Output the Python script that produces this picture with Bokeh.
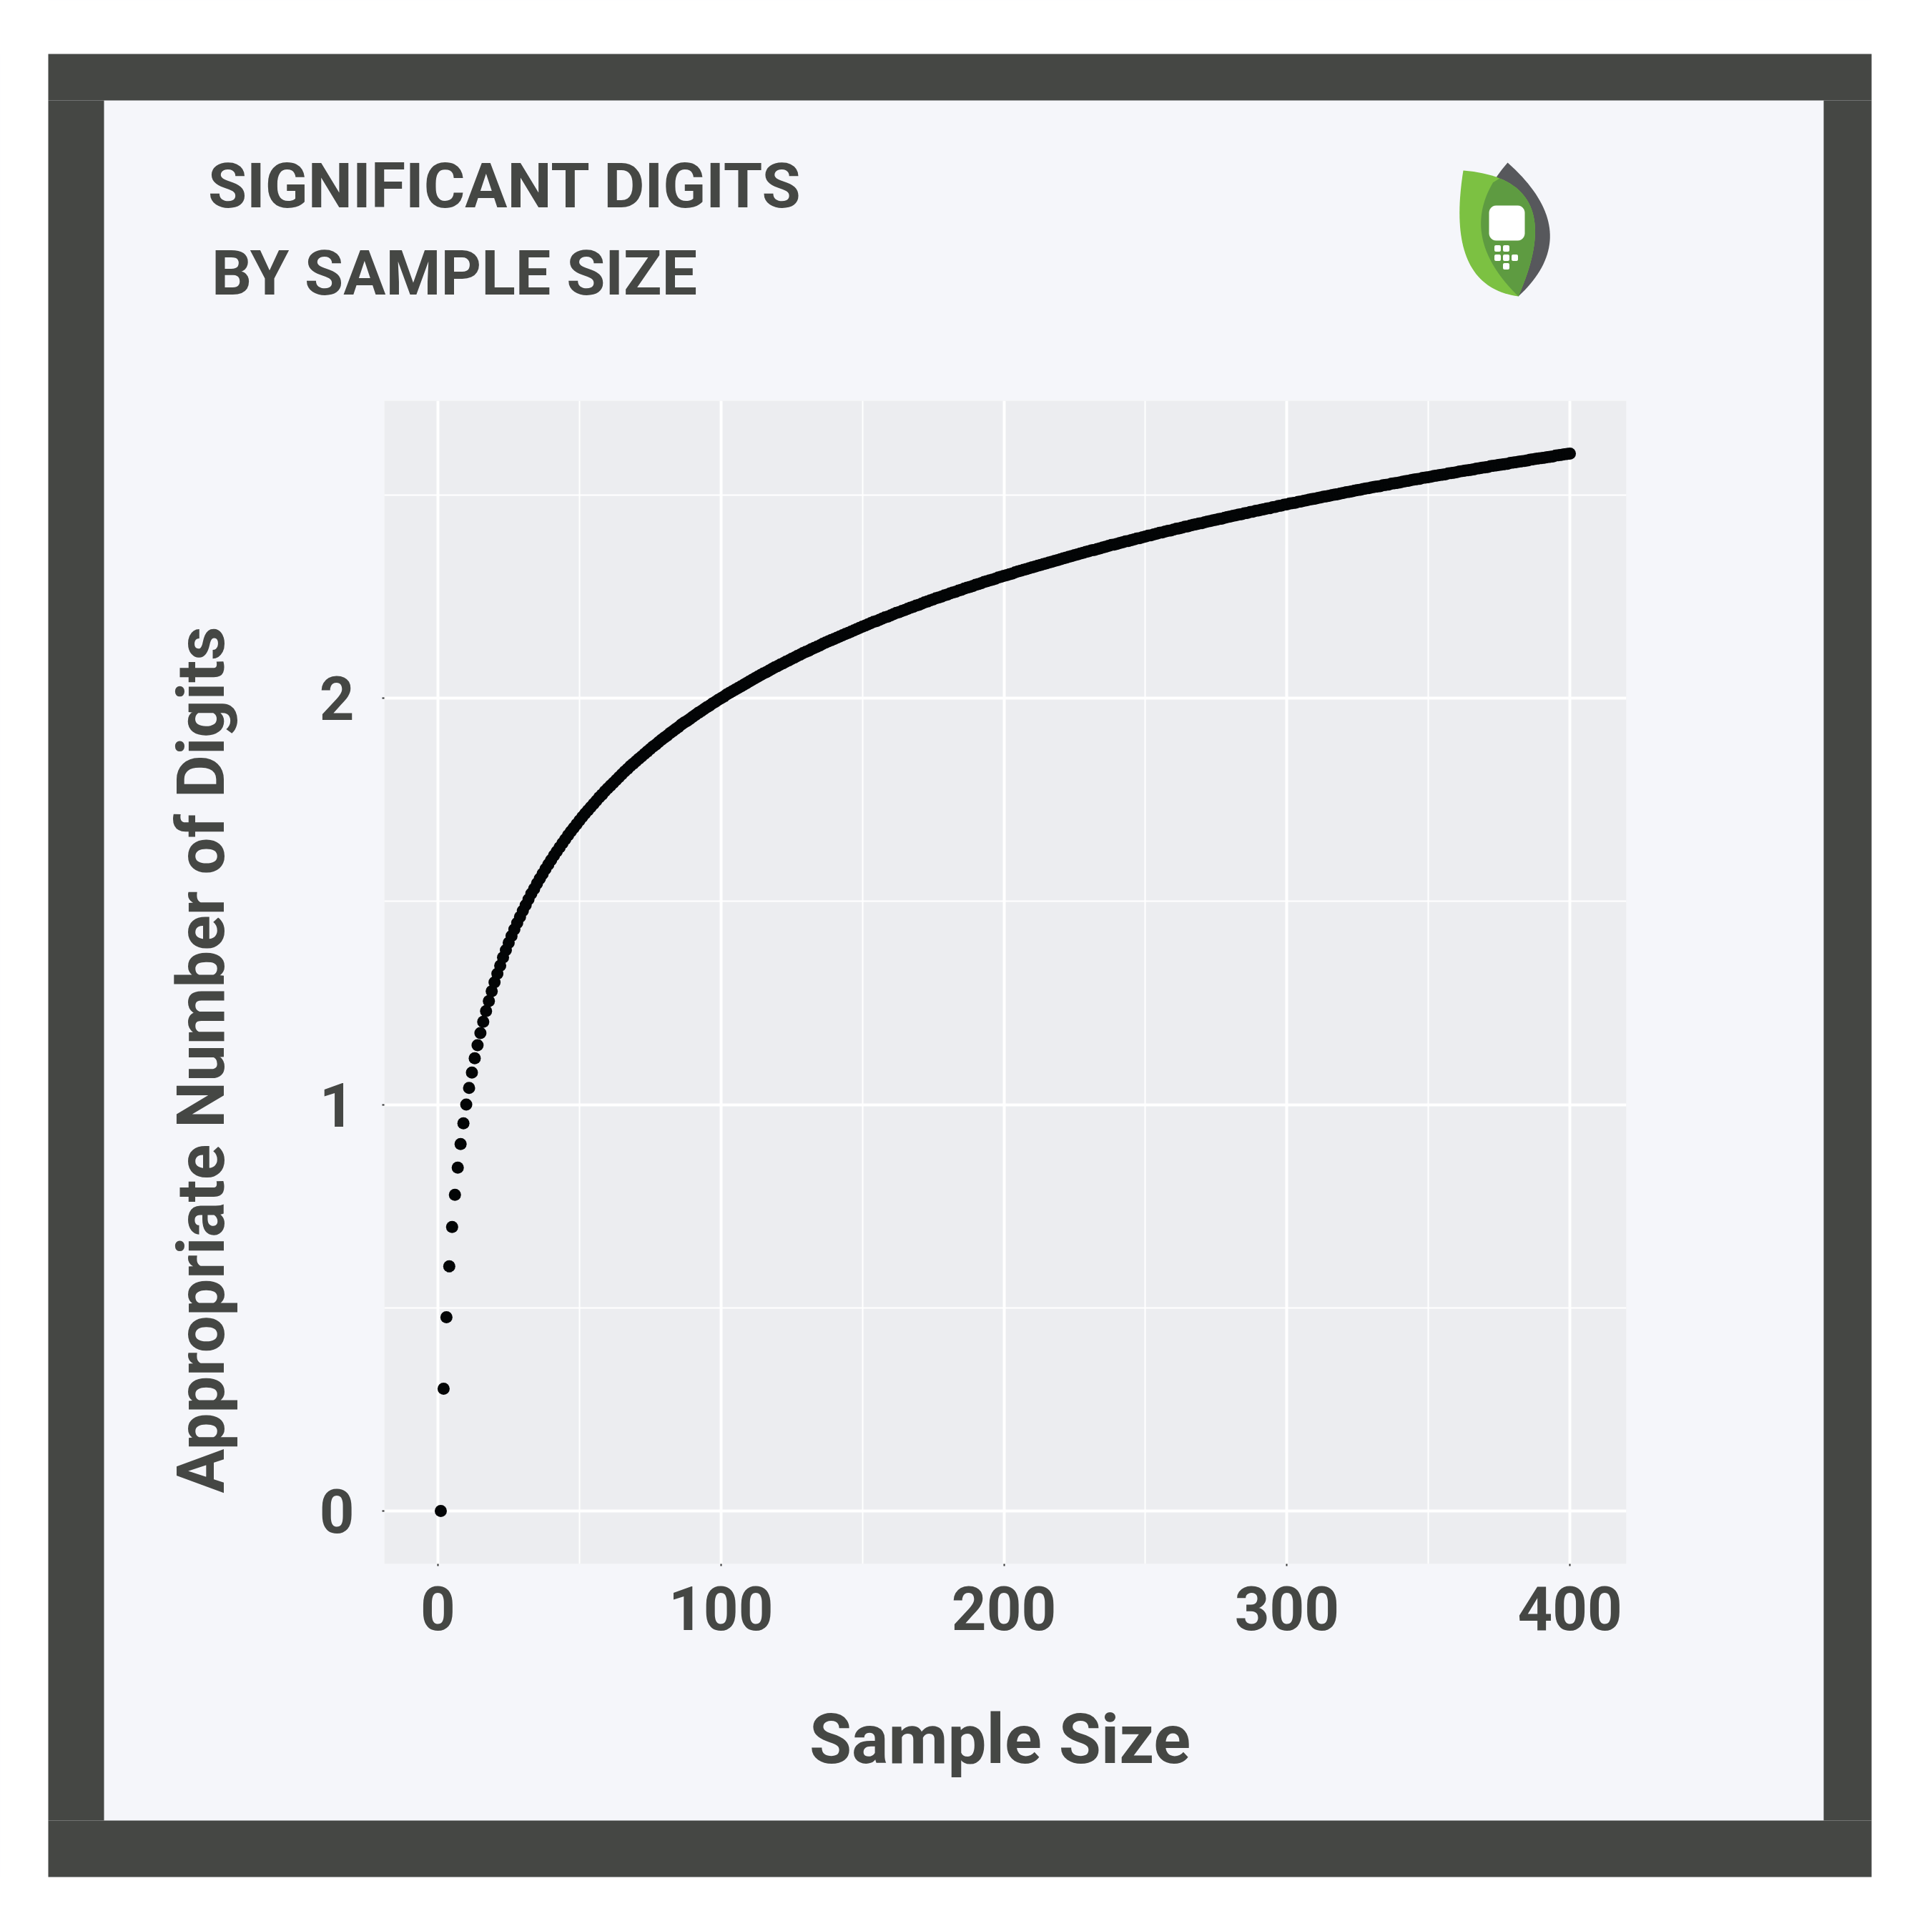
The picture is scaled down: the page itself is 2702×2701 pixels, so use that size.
import math
from bokeh.plotting import figure
from bokeh.models import FixedTicker, LinearAxis, Range1d, Legend, LegendItem
from bokeh.core.properties import value
from bokeh.embed import file_html
from bokeh.resources import INLINE

# ---------------- data ----------------
sample_size = list(range(1, 401))
digits = [
    0.000, 0.301, 0.477, 0.602, 0.699, 0.778, 0.845, 0.903, 0.954, 1.000,
    1.041, 1.079, 1.114, 1.146, 1.176, 1.204, 1.230, 1.255, 1.279, 1.301,
    1.322, 1.342, 1.362, 1.380, 1.398, 1.415, 1.431, 1.447, 1.462, 1.477,
    1.491, 1.505, 1.519, 1.531, 1.544, 1.556, 1.568, 1.580, 1.591, 1.602,
    1.613, 1.623, 1.633, 1.643, 1.653, 1.663, 1.672, 1.681, 1.690, 1.699,
    1.708, 1.716, 1.724, 1.732, 1.740, 1.748, 1.756, 1.763, 1.771, 1.778,
    1.785, 1.792, 1.799, 1.806, 1.813, 1.820, 1.826, 1.833, 1.839, 1.845,
    1.851, 1.857, 1.863, 1.869, 1.875, 1.881, 1.886, 1.892, 1.898, 1.903,
    1.908, 1.914, 1.919, 1.924, 1.929, 1.935, 1.940, 1.944, 1.949, 1.954,
    1.959, 1.964, 1.968, 1.973, 1.978, 1.982, 1.987, 1.991, 1.996, 2.000,
    2.004, 2.009, 2.013, 2.017, 2.021, 2.025, 2.029, 2.033, 2.037, 2.041,
    2.045, 2.049, 2.053, 2.057, 2.061, 2.064, 2.068, 2.072, 2.076, 2.079,
    2.083, 2.086, 2.090, 2.093, 2.097, 2.100, 2.104, 2.107, 2.111, 2.114,
    2.117, 2.121, 2.124, 2.127, 2.130, 2.134, 2.137, 2.140, 2.143, 2.146,
    2.149, 2.152, 2.155, 2.158, 2.161, 2.164, 2.167, 2.170, 2.173, 2.176,
    2.179, 2.182, 2.185, 2.188, 2.190, 2.193, 2.196, 2.199, 2.201, 2.204,
    2.207, 2.210, 2.212, 2.215, 2.217, 2.220, 2.223, 2.225, 2.228, 2.230,
    2.233, 2.236, 2.238, 2.241, 2.243, 2.246, 2.248, 2.250, 2.253, 2.255,
    2.258, 2.260, 2.262, 2.265, 2.267, 2.270, 2.272, 2.274, 2.276, 2.279,
    2.281, 2.283, 2.286, 2.288, 2.290, 2.292, 2.294, 2.297, 2.299, 2.301,
    2.303, 2.305, 2.307, 2.310, 2.312, 2.314, 2.316, 2.318, 2.320, 2.322,
    2.324, 2.326, 2.328, 2.330, 2.332, 2.334, 2.336, 2.338, 2.340, 2.342,
    2.344, 2.346, 2.348, 2.350, 2.352, 2.354, 2.356, 2.358, 2.360, 2.362,
    2.364, 2.365, 2.367, 2.369, 2.371, 2.373, 2.375, 2.377, 2.378, 2.380,
    2.382, 2.384, 2.386, 2.387, 2.389, 2.391, 2.393, 2.394, 2.396, 2.398,
    2.400, 2.401, 2.403, 2.405, 2.407, 2.408, 2.410, 2.412, 2.413, 2.415,
    2.417, 2.418, 2.420, 2.422, 2.423, 2.425, 2.427, 2.428, 2.430, 2.431,
    2.433, 2.435, 2.436, 2.438, 2.439, 2.441, 2.442, 2.444, 2.446, 2.447,
    2.449, 2.450, 2.452, 2.453, 2.455, 2.456, 2.458, 2.459, 2.461, 2.462,
    2.464, 2.465, 2.467, 2.468, 2.470, 2.471, 2.473, 2.474, 2.476, 2.477,
    2.479, 2.480, 2.481, 2.483, 2.484, 2.486, 2.487, 2.489, 2.490, 2.491,
    2.493, 2.494, 2.496, 2.497, 2.498, 2.500, 2.501, 2.502, 2.504, 2.505,
    2.507, 2.508, 2.509, 2.511, 2.512, 2.513, 2.515, 2.516, 2.517, 2.519,
    2.520, 2.521, 2.522, 2.524, 2.525, 2.526, 2.528, 2.529, 2.530, 2.531,
    2.533, 2.534, 2.535, 2.537, 2.538, 2.539, 2.540, 2.542, 2.543, 2.544,
    2.545, 2.547, 2.548, 2.549, 2.550, 2.551, 2.553, 2.554, 2.555, 2.556,
    2.558, 2.559, 2.560, 2.561, 2.562, 2.563, 2.565, 2.566, 2.567, 2.568,
    2.569, 2.571, 2.572, 2.573, 2.574, 2.575, 2.576, 2.577, 2.579, 2.580,
    2.581, 2.582, 2.583, 2.584, 2.585, 2.587, 2.588, 2.589, 2.590, 2.591,
    2.592, 2.593, 2.594, 2.595, 2.597, 2.598, 2.599, 2.600, 2.601, 2.602,
]
x_ticks = [0, 100, 200, 300, 400]
x_minor = [50, 150, 250, 350]
y_ticks = [0, 1, 2]
y_minor = [0.5, 1.5, 2.5]

title_lines = ["SIGNIFICANT DIGITS", "BY SAMPLE SIZE"]
x_label = "Sample Size"
y_label = "Appropriate Number of Digits"
brand = ["NEXLEAF", "ANALYTICS"]

# ---------------- layout / style ----------------
W, H = 2694, 2693
FL, FT, FW, FH = 537, 560, 1737, 1627
X0, X1 = -18.95, 419.95
Y0, Y1 = -0.1301, 2.7321

DARK = "#454744"
PANEL = "#f5f6fa"
PLOTBG = "#ecedf0"
TEXT = "#454744"
FONT = "Roboto"


def X(px):
    return X0 + (px - FL) / FW * (X1 - X0)


def Y(py):
    return Y1 - (py - FT) / FH * (Y1 - Y0)


p = figure(width=W, height=H, output_backend="svg", toolbar_location=None,
           x_range=(X0, X1), y_range=(Y0, Y1),
           min_border_left=FL, min_border_top=FT,
           min_border_right=W - FL - FW, min_border_bottom=H - FT - FH)
p.border_fill_color = PANEL
p.background_fill_color = PLOTBG
p.outline_line_color = None
# pixel-unit ranges used only to place the text axes
p.extra_x_ranges = {"px": Range1d(FL, FL + FW)}
p.extra_y_ranges = {"py": Range1d(FT + FH, FT)}

p.xaxis.ticker = FixedTicker(ticks=x_ticks, minor_ticks=x_minor)
p.yaxis.ticker = FixedTicker(ticks=y_ticks, minor_ticks=y_minor)
for ax in (p.xaxis, p.yaxis):
    ax.axis_line_color = None
    ax.major_tick_line_color = "#333333"
    ax.major_tick_line_width = 2
    ax.major_tick_in = 0
    ax.major_tick_out = 3
    ax.minor_tick_line_color = None
    ax.major_label_text_font = FONT
    ax.major_label_text_font_style = "bold"
    ax.major_label_text_font_size = "85px"
    ax.major_label_text_color = TEXT
p.xaxis.major_label_standoff = 27
p.yaxis.major_label_standoff = 38

p.grid.grid_line_color = "white"
p.grid.grid_line_width = 4
p.grid.minor_grid_line_color = "white"
p.grid.minor_grid_line_width = 2

p.scatter(sample_size, digits, size=17, color="#030506", line_color=None)


def text_axis(side, tick, text, size, style, color, standoff, orientation="horizontal"):
    horiz = side in ("above", "below")
    kw = {"x_range_name": "px"} if horiz else {"y_range_name": "py"}
    ax = LinearAxis(ticker=FixedTicker(ticks=[tick], minor_ticks=[]), **kw)
    ax.major_label_overrides = {tick: text}
    ax.axis_line_color = None
    ax.major_tick_line_color = None
    ax.minor_tick_line_color = None
    ax.major_tick_in = 0
    ax.major_tick_out = 0
    ax.minor_tick_in = 0
    ax.minor_tick_out = 0
    ax.major_label_standoff = standoff
    ax.major_label_text_font = FONT
    ax.major_label_text_font_size = size
    ax.major_label_text_font_style = style
    ax.major_label_text_color = color
    ax.major_label_orientation = orientation
    p.add_layout(ax, side)


text_axis("above", 635, title_lines[1], "88px", "bold", TEXT, 128)
text_axis("above", 706, title_lines[0], "88px", "bold", TEXT, 16)
text_axis("below", 1398, x_label, "96px", "bold", TEXT, 94)
text_axis("left", 1482, y_label, "92px", "bold", TEXT, 109, orientation="vertical")


def poly(pts, color):
    p.patch([X(a) for a, _ in pts], [Y(b) for _, b in pts], fill_color=color,
            line_color=None, level="guide")


def rect(l, t, r, b, color):
    poly([(l, t), (r, t), (r, b), (l, b)], color)


def rrect(l, t, r, b, rad, color, n=6):
    pts = []
    corners = [(r - rad, t + rad, -90, 0), (r - rad, b - rad, 0, 90),
               (l + rad, b - rad, 90, 180), (l + rad, t + rad, 180, 270)]
    for cx, cy, a0, a1 in corners:
        for i in range(n + 1):
            a = math.radians(a0 + (a1 - a0) * i / n)
            pts.append((cx + rad * math.cos(a), cy + rad * math.sin(a)))
    poly(pts, color)


# white outer margin
rect(0, 0, 2702, 75, "white")
rect(0, 2625, 2702, 2701, "white")
rect(0, 0, 67, 2701, "white")
rect(2617, 0, 2702, 2701, "white")
# dark frame
rect(67, 75, 2617, 140, DARK)
rect(67, 2546, 2617, 2625, DARK)
rect(67, 140, 145, 2546, DARK)
rect(2550, 140, 2617, 2546, DARK)


# ---------------- logo mark ----------------
def qbez(p0, c, p1, t0=0.0, t1=1.0, n=40):
    pts = []
    for i in range(n + 1):
        t = t0 + (t1 - t0) * i / n
        a, b, d = (1 - t) ** 2, 2 * t * (1 - t), t * t
        pts.append((a * p0[0] + b * c[0] + d * p1[0], a * p0[1] + b * c[1] + d * p1[1]))
    return pts


B = (2123, 414)
Tg, Cgl, Cgr = (2108, 227), (2026.5, 319.5), (2218.5, 325.5)
Tl, Cll, Clr = (2046, 238), (2020, 400), (2195, 250)
poly(qbez(Tg, Cgl, B) + qbez(Tg, Cgr, B)[::-1], "#57585c")
poly(qbez(Tl, Cll, B) + qbez(Tl, Clr, B)[::-1], "#7cc142")
poly(qbez(Tg, Cgl, B, 0.15, 1.0) + qbez(Tl, Clr, B, 0.2, 1.0)[::-1], "#5e9b41")

rrect(2082, 287, 2132, 336, 10, "white")
for cx, cy in [(2094, 347), (2106, 347), (2094, 360), (2106, 360), (2118, 360), (2106, 372)]:
    rrect(cx - 4.5, cy - 4.5, cx + 4.5, cy + 4.5, 2, "white", n=2)


# ---------------- brand words (label-only legends) ----------------
def brand_word(text, left_px, center_px, size_px, style, color, width_px):
    h = int(round(size_px * 1.2))
    bottom_px = center_px + h / 2.0
    lg = Legend(items=[LegendItem(label=value(text), renderers=[])],
                location=(int(round(left_px - FL)), int(round(FT + FH - bottom_px))))
    lg.padding = 0
    lg.margin = 0
    lg.spacing = 0
    lg.glyph_width = 0
    lg.glyph_height = h
    lg.label_standoff = 0
    lg.label_height = h
    lg.label_width = width_px
    lg.border_line_color = None
    lg.background_fill_alpha = 0
    lg.label_text_font = FONT
    lg.label_text_font_size = "%dpx" % size_px
    lg.label_text_font_style = style
    lg.label_text_color = color
    lg.label_text_baseline = "middle"
    p.add_layout(lg)


brand_word(brand[0], 2171, 302, 72, "normal", "#5e9b41", 320)
brand_word(brand[1], 2160, 382, 58, "bold", "#57585c", 330)

open("out.html", "w").write(file_html(p, INLINE))
